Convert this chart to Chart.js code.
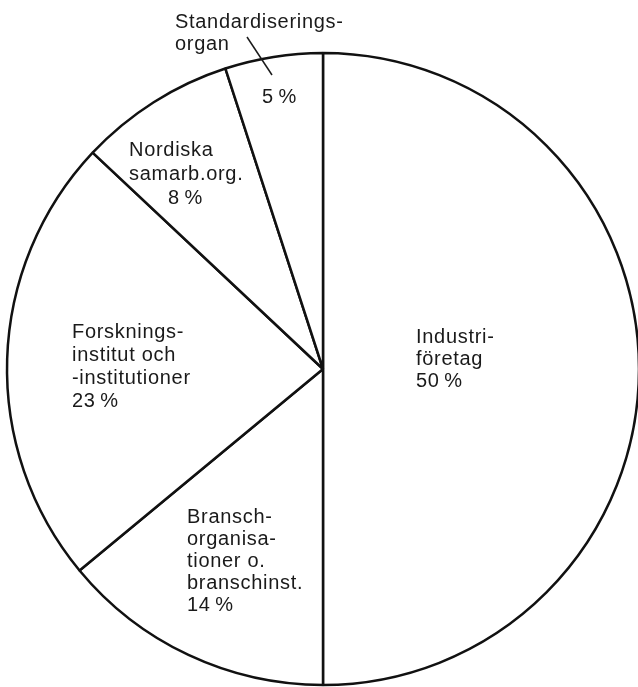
<!DOCTYPE html>
<html>
<head>
<meta charset="utf-8">
<script src="https://cdn.jsdelivr.net/npm/chart.js@4/dist/chart.umd.min.js"></script>
<style>
html,body{margin:0;padding:0;background:#fff;overflow:hidden;}
#wrap{position:absolute;left:0;top:0;width:640px;height:700px;}
</style>
</head>
<body>
<div id="wrap"><canvas id="c" width="640" height="700"></canvas></div>
<script>
// Data
const categories = [
  "Industriföretag",
  "Branschorganisationer o. branschinst.",
  "Forskningsinstitut och -institutioner",
  "Nordiska samarb.org.",
  "Standardiseringsorgan"
];
const shares = [50, 14, 23, 8, 5];
const labelLines = [
  ["Industri-", "företag", "50\u2009%"],
  ["Bransch-", "organisa-", "tioner o.", "branschinst.", "14\u2009%"],
  ["Forsknings-", "institut och", "-institutioner", "23\u2009%"],
  ["Nordiska", "samarb.org.", "8\u2009%"],
  ["Standardiserings-", "organ"]
];

// label placement relative to pie centre, in units of radius
const R0 = 316;
const labelPos = [
  {x:(416-323)/R0, y:(343-369)/R0, lh:22, dx:[0,0,0]},
  {x:(187-323)/R0, y:(523-369)/R0, lh:22, dx:[0,0,0,0,0]},
  {x:(72-323)/R0,  y:(338-369)/R0, lh:23, dx:[0,0,0,0]},
  {x:(129-323)/R0, y:(156-369)/R0, lh:24, dx:[0,0,39]},
  {x:(175-323)/R0, y:(28-369)/R0,  lh:22, dx:[0,0]}
];
const extraPct = {x:(262-323)/R0, y:(103-369)/R0}; // "5 %" inside small slice
const leader = {x1:(247-323)/R0, y1:(37-369)/R0, x2:(272-323)/R0, y2:(75-369)/R0};

const labelPlugin = {
  id: 'pieLabels',
  afterDatasetsDraw(chart) {
    const ctx = chart.ctx;
    const arc = chart.getDatasetMeta(0).data[0];
    const cx = arc.x, cy = arc.y, r = arc.outerRadius;
    ctx.save();
    ctx.fillStyle = '#1a1a1a';
    ctx.font = '20px "Liberation Sans", Arial, sans-serif';
    ctx.letterSpacing = '0.7px';
    ctx.textBaseline = 'alphabetic';
    ctx.textAlign = 'left';
    labelLines.forEach((lines, i) => {
      const p = labelPos[i];
      lines.forEach((t, j) => {
        ctx.fillText(t, cx + p.x * r + p.dx[j], cy + p.y * r + j * p.lh);
      });
    });
    ctx.fillText("5\u2009%", cx + extraPct.x * r, cy + extraPct.y * r);
    // leader line
    ctx.strokeStyle = '#1a1a1a';
    ctx.lineWidth = 1.5;
    ctx.beginPath();
    ctx.moveTo(cx + leader.x1 * r, cy + leader.y1 * r);
    ctx.lineTo(cx + leader.x2 * r, cy + leader.y2 * r);
    ctx.stroke();
    ctx.restore();
  }
};

new Chart(document.getElementById('c'), {
  type: 'pie',
  data: {
    labels: categories,
    datasets: [{
      data: shares,
      backgroundColor: '#ffffff',
      borderColor: '#111111',
      borderWidth: 2.5,
      clip: false
    }]
  },
  options: {
    responsive: false,
    animation: false,
    radius: R0,
    layout: {padding: {left: 7, top: 53, right: 1, bottom: 15}},
    plugins: {
      legend: {display: false},
      tooltip: {enabled: false},
      title: {display: false}
    }
  },
  plugins: [labelPlugin]
});
</script>
</body>
</html>
